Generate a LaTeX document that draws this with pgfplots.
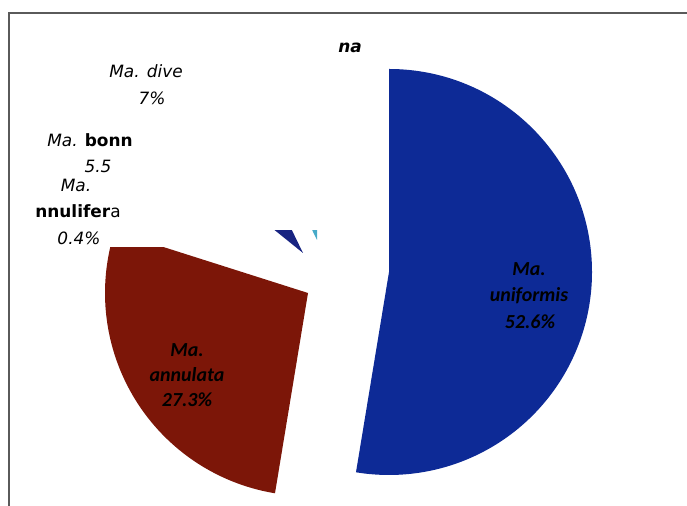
\documentclass[border=0pt]{standalone}
\usepackage{pgfplots}
\pgfplotsset{compat=1.18}
\usepackage{fontspec}
\setmainfont{DejaVu Sans}
\newfontfamily\calfont{Carlito}
\definecolor{piblue}{RGB}{13,42,150}
\definecolor{pired}{RGB}{124,22,8}
\definecolor{pidark}{RGB}{24,36,130}
\definecolor{piteal}{RGB}{70,170,200}
\definecolor{frame}{RGB}{90,90,90}
% #1 cumulative percent before the slice, #2 percent, #3/#4 apex, #5 colour
\newcommand{\slice}[5]{%
  \fill[#5] (axis cs:#3,#4) -- ++({90-3.6*(#1)}:203bp)
    arc[start angle={90-3.6*(#1)}, end angle={90-3.6*(#1+#2)}, radius=203bp] -- cycle;}
\begin{document}
\begin{tikzpicture}
\begin{axis}[x=1bp,y=1bp,xmin=0,xmax=687,ymin=0,ymax=506,hide axis,scale only axis]
\path (axis cs:0,0) rectangle (axis cs:687,506);
% slices: uniformis 52.6, annulata 27.3, annulifera 0.4, bonn 5.5, dive 7.0, other 7.2
\slice{79.9}{0.4}{302}{236}{white}
\slice{80.3}{5.5}{300}{248}{white}
\slice{0}{52.6}{389}{234}{piblue}
\slice{52.6}{27.3}{308}{213}{pired}
\slice{85.8}{7.0}{303}{253}{pidark}
\slice{92.8}{7.2}{317}{266}{piteal}
\fill[white] (axis cs:0,259) rectangle (axis cs:272,506);
\fill[white] (axis cs:272,276) rectangle (axis cs:345,506);
\draw[frame, line width=1.2bp] (axis cs:9,0) -- (axis cs:9,493) -- (axis cs:687,493);
% outside labels
\node[anchor=base, inner sep=0pt, font=\fontsize{17}{20}\selectfont\bfseries\itshape] at (axis cs:350,453) {na};
\node[anchor=base, inner sep=0pt, font=\fontsize{17}{20}\selectfont\itshape] at (axis cs:146,428) {Ma. dive};
\node[anchor=base, inner sep=0pt, font=\fontsize{17}{20}\selectfont\itshape] at (axis cs:152,401) {7\%};
\node[anchor=base, inner sep=0pt, font=\fontsize{17}{20}\selectfont\itshape] at (axis cs:90,359) {Ma. \textbf{\upshape bonn}};
\node[anchor=base, inner sep=0pt, font=\fontsize{17}{20}\selectfont\itshape] at (axis cs:98,333) {5.5};
\node[anchor=base, inner sep=0pt, font=\fontsize{17}{20}\selectfont\itshape] at (axis cs:76,314) {Ma.};
\node[anchor=base, inner sep=0pt, font=\fontsize{17}{20}\selectfont] at (axis cs:78,288) {\textbf{nnulifer}a};
\node[anchor=base, inner sep=0pt, font=\fontsize{17}{20}\selectfont\itshape] at (axis cs:79,261) {0.4\%};
% inside labels
\node[anchor=base, inner sep=0pt, font=\calfont\fontsize{20}{22}\selectfont\bfseries\itshape] at (axis cs:529,230) {Ma.};
\node[anchor=base, inner sep=0pt, font=\calfont\fontsize{20}{22}\selectfont\bfseries\itshape] at (axis cs:529,204) {uniformis};
\node[anchor=base, inner sep=0pt, font=\calfont\fontsize{20}{22}\selectfont\bfseries\itshape] at (axis cs:530,177) {52.6\%};
\node[anchor=base, inner sep=0pt, font=\calfont\fontsize{20}{22}\selectfont\bfseries\itshape] at (axis cs:187,149) {Ma.};
\node[anchor=base, inner sep=0pt, font=\calfont\fontsize{20}{22}\selectfont\bfseries\itshape] at (axis cs:187,124) {annulata};
\node[anchor=base, inner sep=0pt, font=\calfont\fontsize{20}{22}\selectfont\bfseries\itshape] at (axis cs:187,99) {27.3\%};
\end{axis}
\end{tikzpicture}
\end{document}
